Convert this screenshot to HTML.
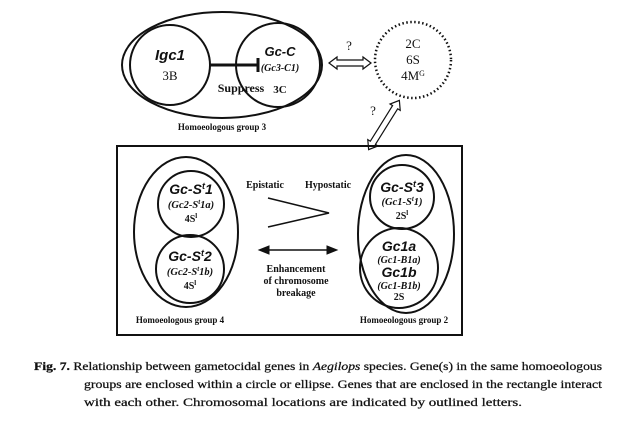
<!DOCTYPE html>
<html><head><meta charset="utf-8"><style>
html,body{margin:0;padding:0;background:#fff;width:639px;height:423px;overflow:hidden}
svg{display:block}
.s{font-family:"Liberation Serif",serif}
.a{font-family:"Liberation Sans",sans-serif;font-weight:bold;font-style:italic}
</style></head><body>
<svg width="639" height="423" viewBox="0 0 639 423" xmlns="http://www.w3.org/2000/svg" fill="none" stroke="#111">
<!-- top group -->
<ellipse cx="222" cy="65" rx="100" ry="53" stroke-width="2"/>
<circle cx="170" cy="65" r="40" stroke-width="2"/>
<circle cx="278" cy="65" r="42" stroke-width="2"/>
<line x1="210" y1="65" x2="257" y2="65" stroke-width="3"/>
<line x1="258" y1="58" x2="258" y2="72" stroke-width="3"/>
<g fill="#111" stroke="none">
<text x="170" y="60" class="a" font-size="15" text-anchor="middle">Igc1</text>
<text x="170" y="80" class="s" font-size="13" text-anchor="middle">3B</text>
<text x="280" y="56" class="a" font-size="13" text-anchor="middle">Gc-C</text>
<text x="280" y="71" class="s" font-size="10" font-style="italic" font-weight="bold" text-anchor="middle">(Gc3-C1)</text>
<text x="241" y="92" class="s" font-size="12" font-weight="bold" text-anchor="middle">Suppress</text>
<text x="280" y="93" class="s" font-size="11" font-weight="bold" text-anchor="middle">3C</text>
<text x="222" y="130" class="s" font-size="9" font-weight="bold" text-anchor="middle">Homoeologous group 3</text>
<text x="349" y="50" class="s" font-size="13" text-anchor="middle">?</text>
<text x="413" y="48" class="s" font-size="13" text-anchor="middle">2C</text>
<text x="413" y="64" class="s" font-size="13" text-anchor="middle">6S</text>
<text x="413" y="80" class="s" font-size="13" text-anchor="middle">4M<tspan font-size="8" dy="-4">G</tspan></text>
<text x="373" y="115" class="s" font-size="13" text-anchor="middle">?</text>
</g>
<path d="M329 63 L337 57 L337 60 L363 60 L363 57 L371 63 L363 69 L363 66 L337 66 L337 69 Z" stroke-width="1.2"/>
<circle cx="413" cy="60" r="38" stroke-width="2.5" stroke-dasharray="1.5 2.5"/>
<g transform="translate(384,125) rotate(-58)">
<path d="M-29 0 L-21 -6 L-21 -3 L21 -3 L21 -6 L29 0 L21 6 L21 3 L-21 3 L-21 6 Z" stroke-width="1.2"/>
</g>
<!-- rectangle -->
<rect x="117" y="146" width="345" height="189" stroke-width="2"/>
<ellipse cx="186" cy="232" rx="52" ry="75" stroke-width="2"/>
<circle cx="191" cy="204" r="33" stroke-width="2"/>
<circle cx="190" cy="269" r="34" stroke-width="2"/>
<ellipse cx="406" cy="234" rx="48" ry="79" stroke-width="2"/>
<circle cx="402" cy="197" r="32" stroke-width="2"/>
<ellipse cx="399" cy="268" rx="39" ry="40" stroke-width="2"/>
<polyline points="268,198 329,213 268,227" stroke-width="1.5"/>
<line x1="266" y1="250" x2="330" y2="250" stroke-width="1.5"/>
<path d="M259 250 L269 246 L269 254 Z M337 250 L327 246 L327 254 Z" fill="#111"/>
<g fill="#111" stroke="none">
<text x="191" y="194" class="a" font-size="14" text-anchor="middle">Gc-S<tspan font-size="9" dy="-5">t</tspan><tspan dy="5">1</tspan></text>
<text x="191" y="208" class="s" font-size="10.5" font-style="italic" font-weight="bold" text-anchor="middle">(Gc2-S<tspan font-size="7" dy="-4">t</tspan><tspan dy="4">1a)</tspan></text>
<text x="191" y="222" class="s" font-size="10" font-weight="bold" text-anchor="middle">4S<tspan font-size="7" dy="-4">l</tspan></text>
<text x="190" y="261" class="a" font-size="14" text-anchor="middle">Gc-S<tspan font-size="9" dy="-5">t</tspan><tspan dy="5">2</tspan></text>
<text x="190" y="275" class="s" font-size="10.5" font-style="italic" font-weight="bold" text-anchor="middle">(Gc2-S<tspan font-size="7" dy="-4">t</tspan><tspan dy="4">1b)</tspan></text>
<text x="190" y="289" class="s" font-size="10" font-weight="bold" text-anchor="middle">4S<tspan font-size="7" dy="-4">l</tspan></text>
<text x="402" y="192" class="a" font-size="14" text-anchor="middle">Gc-S<tspan font-size="9" dy="-5">t</tspan><tspan dy="5">3</tspan></text>
<text x="402" y="205" class="s" font-size="10.5" font-style="italic" font-weight="bold" text-anchor="middle">(Gc1-S<tspan font-size="7" dy="-4">t</tspan><tspan dy="4">1)</tspan></text>
<text x="402" y="219" class="s" font-size="10" font-weight="bold" text-anchor="middle">2S<tspan font-size="7" dy="-4">l</tspan></text>
<text x="399" y="251" class="a" font-size="14" text-anchor="middle">Gc1a</text>
<text x="399" y="263" class="s" font-size="10" font-style="italic" font-weight="bold" text-anchor="middle">(Gc1-B1a)</text>
<text x="399" y="277" class="a" font-size="14" text-anchor="middle">Gc1b</text>
<text x="399" y="289" class="s" font-size="10" font-style="italic" font-weight="bold" text-anchor="middle">(Gc1-B1b)</text>
<text x="399" y="300" class="s" font-size="10" font-weight="bold" text-anchor="middle">2S</text>
<text x="265" y="188" class="s" font-size="10" font-weight="bold" text-anchor="middle">Epistatic</text>
<text x="328" y="188" class="s" font-size="10" font-weight="bold" text-anchor="middle">Hypostatic</text>
<text x="296" y="272" class="s" font-size="10" font-weight="bold" text-anchor="middle">Enhancement</text>
<text x="296" y="284" class="s" font-size="10" font-weight="bold" text-anchor="middle">of chromosome</text>
<text x="296" y="296" class="s" font-size="10" font-weight="bold" text-anchor="middle">breakage</text>
<text x="180" y="323" class="s" font-size="9" font-weight="bold" text-anchor="middle">Homoeologous group 4</text>
<text x="404" y="323" class="s" font-size="9" font-weight="bold" text-anchor="middle">Homoeologous group 2</text>
</g>
<g fill="#111" stroke="#111" stroke-width="0.25">
<text x="34" y="370" class="s" font-size="11.5" textLength="568" lengthAdjust="spacingAndGlyphs"><tspan font-weight="bold">Fig. 7.</tspan> Relationship between gametocidal genes in <tspan font-style="italic">Aegilops</tspan> species. Gene(s) in the same homoeologous</text>
<text x="84" y="388" class="s" font-size="11.5" textLength="518" lengthAdjust="spacingAndGlyphs">groups are enclosed within a circle or ellipse. Genes that are enclosed in the rectangle interact</text>
<text x="84" y="406" class="s" font-size="11.5" textLength="438" lengthAdjust="spacingAndGlyphs">with each other. Chromosomal locations are indicated by outlined letters.</text>
</g>
</svg>
</body></html>
